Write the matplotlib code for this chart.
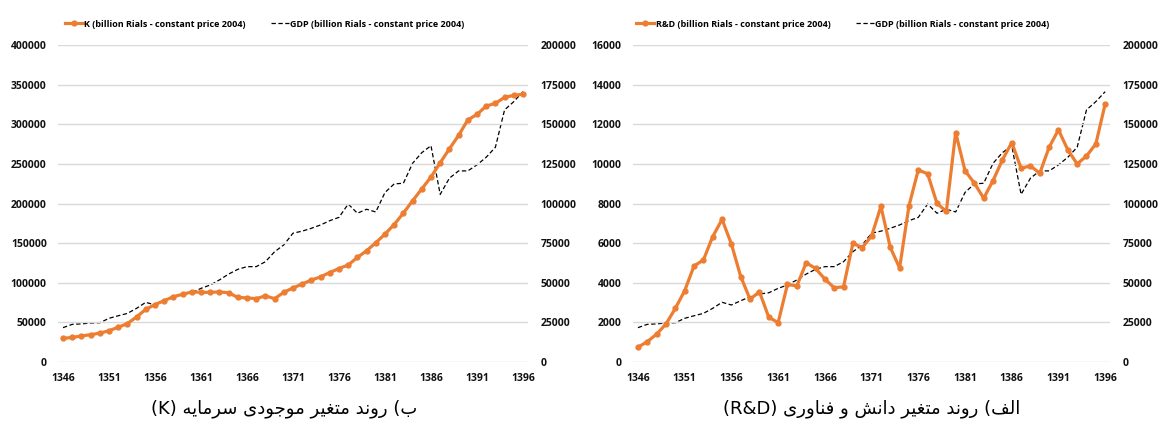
import numpy as np
import matplotlib.pyplot as plt
from matplotlib.ticker import FixedLocator

# data
years = list(range(1346, 1397))
k_values = [30000, 31000, 33000, 34500, 36500, 39500, 44000, 48500, 57000, 66500,
            72500, 77500, 82500, 85500, 88500, 88000, 88000, 88500, 87500, 81500,
            81000, 80000, 83500, 80000, 88000, 93500, 98500, 103500, 107500, 113000,
            118000, 122500, 132000, 140500, 150500, 161500, 173500, 188000, 203500, 218500,
            233500, 251500, 269000, 286000, 305500, 312500, 323000, 326500, 334000, 336500,
            338000]
gdp_values = [21700, 23800, 24100, 24600, 24800, 27600, 29200, 30700, 33900, 37700,
              36000, 38700, 41200, 42900, 43700, 46500, 48600, 51800, 55500, 58500,
              60200, 60200, 63300, 69600, 73900, 81300, 82600, 84400, 86500, 89200,
              91300, 99700, 93900, 96400, 94700, 107000, 112400, 112800, 125400, 132100,
              136500, 105800, 116000, 120600, 120600, 124400, 129200, 135500, 159100, 164300,
              170600]
rd_values = [750, 1030, 1410, 1920, 2710, 3600, 4850, 5150, 6330, 7200,
             5960, 4310, 3170, 3550, 2260, 1990, 3920, 3840, 5010, 4730,
             4190, 3750, 3800, 5990, 5780, 6360, 7860, 5790, 4750, 7880,
             9700, 9500, 8010, 7600, 11580, 9660, 9030, 8270, 9160, 10200,
             11080, 9780, 9900, 9530, 10840, 11720, 10710, 10000, 10400, 11010,
             13030]
year_ticks = list(range(1346, 1397, 5))

k_label = 'K (billion Rials - constant price 2004)'
rd_label = 'R&D (billion Rials - constant price 2004)'
gdp_label = 'GDP (billion Rials - constant price 2004)'
caption_left = 'ب) روند متغیر موجودی سرمایه'
caption_right = 'الف) روند متغیر دانش و فناوری'

ORANGE = '#ED7D31'
GRID = '#D9D9D9'
TXT = '#111111'

# matplotlib has no arabic shaping, so pick the presentation forms by hand
FORMS = {
    'ا': ('\uFE8D', '\uFE8E'), 'د': ('\uFEA9', '\uFEAA'),
    'ر': ('\uFEAD', '\uFEAE'), 'و': ('\uFEED', '\uFEEE'),
    'ب': ('\uFE8F', '\uFE90', '\uFE91', '\uFE92'),
    'ت': ('\uFE95', '\uFE96', '\uFE97', '\uFE98'),
    'ج': ('\uFE9D', '\uFE9E', '\uFE9F', '\uFEA0'),
    'س': ('\uFEB1', '\uFEB2', '\uFEB3', '\uFEB4'),
    'ش': ('\uFEB5', '\uFEB6', '\uFEB7', '\uFEB8'),
    'غ': ('\uFECD', '\uFECE', '\uFECF', '\uFED0'),
    'ف': ('\uFED1', '\uFED2', '\uFED3', '\uFED4'),
    'ل': ('\uFEDD', '\uFEDE', '\uFEDF', '\uFEE0'),
    'م': ('\uFEE1', '\uFEE2', '\uFEE3', '\uFEE4'),
    'ن': ('\uFEE5', '\uFEE6', '\uFEE7', '\uFEE8'),
    'ه': ('\uFEE9', '\uFEEA', '\uFEEB', '\uFEEC'),
    'ی': ('\uFEEF', '\uFEF0', '\uFEF3', '\uFEF4'),
}
MIRROR = {'(': ')', ')': '('}


def rtl(text):
    out = []
    for i, ch in enumerate(text):
        if ch not in FORMS:
            out.append(MIRROR.get(ch, ch))
            continue
        prev = text[i - 1] if i > 0 else ''
        nxt = text[i + 1] if i + 1 < len(text) else ''
        joins_prev = prev in FORMS and len(FORMS[prev]) == 4
        joins_next = len(FORMS[ch]) == 4 and nxt in FORMS
        f = FORMS[ch]
        if joins_prev and joins_next:
            out.append(f[3])
        elif joins_next:
            out.append(f[2])
        elif joins_prev:
            out.append(f[1])
        else:
            out.append(f[0])
    return ''.join(reversed(out))


plt.rcParams['font.family'] = ['Open Sans', 'DejaVu Sans']

fig = plt.figure(figsize=(11.59, 4.21), dpi=100)


def panel(rect, series, series_label, ymax, ystep):
    ax = fig.add_axes(rect)
    ax2 = ax.twinx()
    l1, = ax.plot(years, series, color=ORANGE, lw=2.3, marker='o', ms=3.5,
                  label=series_label, zorder=3)
    l2, = ax2.plot(years, gdp_values, color='black', lw=0.9, ls=(0, (3.5, 2)),
                   label=gdp_label, zorder=4)
    ax.set_xlim(1345.45, 1396.55)
    ax.set_ylim(0, ymax)
    ax2.set_ylim(0, 200000)
    ax.yaxis.set_major_locator(FixedLocator(np.arange(0, ymax + 1, ystep)))
    ax2.yaxis.set_major_locator(FixedLocator(np.arange(0, 200001, 25000)))
    ax.set_xticks(year_ticks)
    ax.grid(axis='y', color=GRID, lw=1)
    ax.set_axisbelow(True)
    for a in (ax, ax2):
        for s in a.spines.values():
            s.set_visible(False)
        a.tick_params(length=0, labelsize=7.5, colors=TXT)
    ax.tick_params(axis='y', pad=8)
    ax2.tick_params(axis='y', pad=9)
    ax.tick_params(axis='x', pad=8)
    for lab in ax.get_xticklabels() + ax.get_yticklabels() + ax2.get_yticklabels():
        lab.set_fontweight('bold')
    ax.set_zorder(ax2.get_zorder() + 1)
    ax.patch.set_visible(False)
    ax.legend([l1, l2], [series_label, gdp_label], ncol=2, frameon=False,
              loc='center', bbox_to_anchor=(0.44, 1.066),
              handlelength=2.0, handletextpad=0.15, columnspacing=2.8,
              prop={'weight': 'bold', 'size': 6.5})
    return ax


ax_left = panel([0.050, 0.140, 0.4056, 0.753], k_values, k_label, 400000, 50000)
ax_right = panel([0.546, 0.140, 0.412, 0.753], rd_values, rd_label, 16000, 2000)

fig.text(0.245, 0.03, '(K) ' + rtl(caption_left), ha='center', va='center',
         fontsize=13, family='DejaVu Sans', weight='normal', color='black')
fig.text(0.752, 0.03, '(R&D) ' + rtl(caption_right), ha='center', va='center',
         fontsize=13, family='DejaVu Sans', weight='normal', color='black')

fig.savefig('out.png', dpi=100)
